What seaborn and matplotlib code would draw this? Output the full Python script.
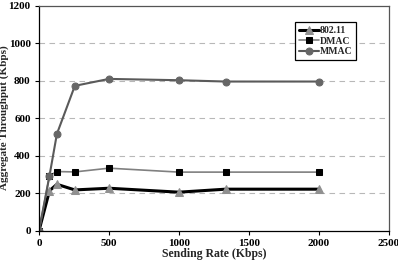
import matplotlib
matplotlib.use("Agg")
import matplotlib.pyplot as plt
import numpy as np
import pandas as pd
import seaborn as sns

# data
rate = [0, 75, 128, 256, 500, 1000, 1333, 2000]
ieee = [0, 213, 247, 217, 226, 205, 221, 221]
dmac = [0, 293, 315, 313, 333, 312, 312, 312]
mmac = [0, 293, 516, 772, 809, 802, 795, 795]

sns.set_theme(style="white")
plt.rcParams['font.family'] = ['Liberation Serif', 'DejaVu Serif']
plt.rcParams['font.weight'] = 'bold'

fig = plt.figure(figsize=(3.98, 2.66), dpi=100)
ax = fig.add_axes([0.098, 0.133, 0.879, 0.846])

ax.set_ylim(0, 1200)
ax.set_xlim(0, 2500)
for yv in range(200, 1200, 200):
    ax.axhline(yv, color="#b8b8b8", lw=0.8, ls=(0, (5, 4)), zorder=0)

sns.lineplot(x=rate, y=ieee, ax=ax, color="black", lw=2.2, marker="^",
             markersize=5.5, markerfacecolor="#909090", markeredgecolor="#909090",
             label="802.11")
sns.lineplot(x=rate, y=dmac, ax=ax, color="#808080", lw=1.2, marker="s",
             markersize=4.5, markerfacecolor="black", markeredgecolor="black",
             label="DMAC")
sns.lineplot(x=rate, y=mmac, ax=ax, color="#5a5a5a", lw=1.5, marker="o",
             markersize=5, markerfacecolor="#666666", markeredgecolor="#666666",
             label="MMAC")

ax.set_xticks([0, 500, 1000, 1500, 2000, 2500])
ax.set_yticks(range(0, 1201, 200))
ax.tick_params(axis="both", labelsize=8, length=3, direction="out", width=0.8,
               colors="black", bottom=True, left=True, pad=3)
for lab in ax.get_xticklabels() + ax.get_yticklabels():
    lab.set_fontweight("bold")
ax.set_xlabel("Sending Rate (Kbps)", fontsize=8.5, fontweight="bold", labelpad=0)
ax.set_ylabel("Aggregate Throughput (Kbps)", fontsize=8, fontweight="bold")
ax.yaxis.set_label_coords(-0.085, 0.5)
for s in ax.spines.values():
    s.set_color("black")
    s.set_linewidth(0.9)
for s in ["top", "right"]:
    ax.spines[s].set_color("#555555")

leg = ax.legend(loc="upper left", bbox_to_anchor=(0.733, 0.925), fontsize=7,
                frameon=True, fancybox=False, edgecolor="black", framealpha=1,
                handlelength=2.0, handletextpad=0.1, borderpad=0.4,
                labelspacing=0.15, borderaxespad=0)
leg.get_frame().set_linewidth(0.9)
for t in leg.get_texts():
    t.set_fontweight("bold")

fig.savefig("out.png", dpi=100)
